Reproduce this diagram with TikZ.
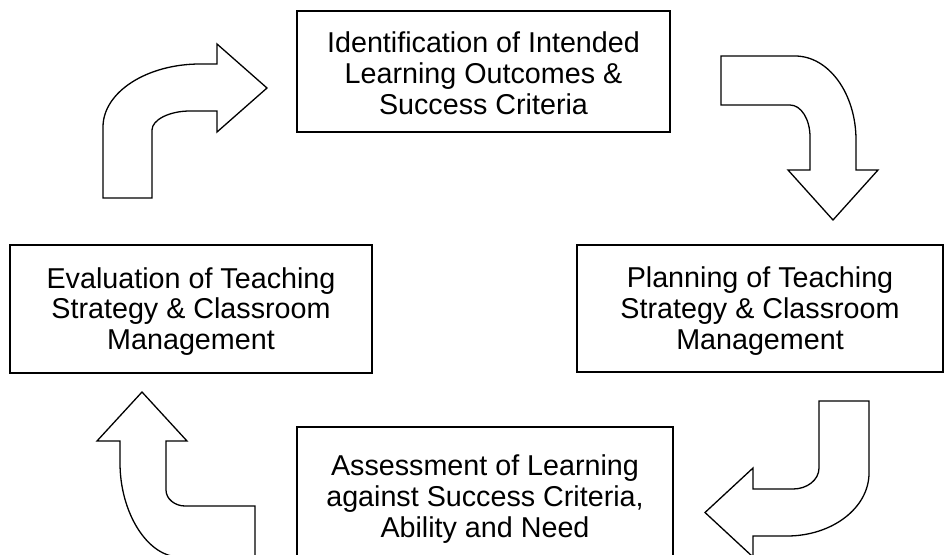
\documentclass[tikz,border=0pt]{standalone}
\usepackage{fontspec}
\setmainfont{Liberation Sans}
\begin{document}
\begin{tikzpicture}[x=1pt,y=-1pt,
  box/.style={draw=black,line width=1.3pt,fill=white,inner sep=0pt},
  txt/.style={align=center,inner sep=0pt,font=\fontsize{28.7}{30.8}\selectfont},
  bentarrow/.style={draw=black,line width=1.3pt,fill=white,line join=miter}]
\useasboundingbox (0,0) rectangle (944,554);
\clip (0,0) rectangle (944,554);
\fill[white] (0,0) rectangle (944,554);
% boxes
\node[box,minimum width=373pt,minimum height=121pt] (b1) at (483.5,71.5) {};
\node[txt] (t1) at (483.5,73) {Identification of Intended\\Learning Outcomes \&\\Success Criteria};
\node[box,minimum width=366pt,minimum height=127pt] (b2) at (760,308.5) {};
\node[txt] (t2) at (760,311) {Planning of Teaching\\Strategy \& Classroom\\Management};
\node[box,minimum width=376pt,minimum height=133pt] (b3) at (485,493.5) {};
\node[txt] (t3) at (485,499) {Assessment of Learning\\against Success Criteria,\\Ability and Need};
\node[box,minimum width=362pt,minimum height=128pt] (b4) at (191,309) {};
\node[txt] (t4) at (191,311.5) {Evaluation of Teaching\\Strategy \& Classroom\\Management};
% arrow top-left
\draw[bentarrow] (103,198) -- (103,127) .. controls (103,92) and (147,64) .. (200,64)
  -- (217,64) -- (217,44) -- (267,88) -- (217,132) -- (217,111) -- (190,111)
  .. controls (169,111) and (152,120) .. (152,130) -- (152,198) -- cycle;
% arrow top-right
\draw[bentarrow] (721,56) -- (795,56) .. controls (829,56) and (856,94) .. (856,140)
  -- (856,170) -- (878,170) -- (833,220) -- (788,170) -- (810,170) -- (810,137)
  .. controls (810,119) and (801,105) .. (790,105) -- (721,105) -- cycle;
% arrow bottom-right
\draw[bentarrow] (819,401) -- (869,401) -- (869,473) .. controls (869,508) and (832,536) .. (787,536)
  -- (753,536) -- (753,557) -- (705,512.5) -- (753,468) -- (753,489) -- (793,489)
  .. controls (807,489) and (819,480) .. (819,468) -- cycle;
% arrow bottom-left
\draw[bentarrow] (142,392) -- (187,441) -- (166,441) -- (166,490)
  .. controls (166,499) and (175,506) .. (185,506) -- (255,506) -- (255,560) -- (180,557)
  .. controls (147,557) and (120,512) .. (120,463) -- (120,441) -- (97,441) -- cycle;
\end{tikzpicture}
\end{document}
